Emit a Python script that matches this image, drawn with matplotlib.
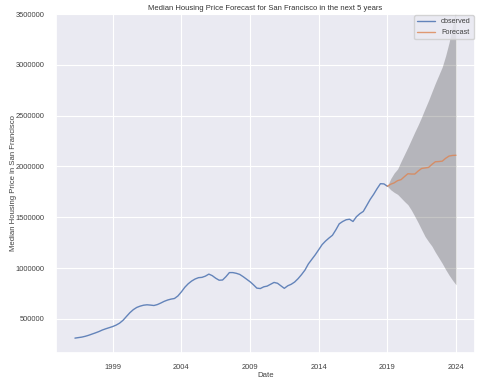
import matplotlib
matplotlib.use('Agg')
import matplotlib.pyplot as plt
import matplotlib.dates as mdates
import matplotlib.ticker as mticker
import pandas as pd
import seaborn as sns

# quarterly readings of the observed median price
obs_start = '1996-04-01'
obs_values = [
    310000, 315000, 320000, 328000, 338000, 350000, 362000, 375000,
    390000, 402000, 413000, 424000, 438000, 457000, 485000, 523000,
    560000, 590000, 612000, 625000, 634000, 638000, 635000, 631000,
    640000, 655000, 672000, 685000, 694000, 700000, 725000, 765000,
    810000, 845000, 872000, 892000, 905000, 908000, 920000, 940000,
    925000, 900000, 880000, 882000, 915000, 955000, 955000, 948000,
    937000, 915000, 890000, 865000, 835000, 802000, 798000, 815000,
    822000, 840000, 858000, 850000, 825000, 800000, 825000, 840000,
    862000, 895000, 935000, 980000, 1040000, 1085000, 1130000, 1180000,
    1230000, 1265000, 1295000, 1322000, 1375000, 1435000, 1458000, 1475000,
    1480000, 1458000, 1505000, 1535000, 1557000, 1615000, 1675000, 1725000,
    1780000, 1830000, 1828000, 1805000,
]

fc_start = '2019-01-01'
fc_mean = [
    1805000, 1825000, 1838000, 1860000, 1870000, 1900000, 1928000, 1925000,
    1925000, 1955000, 1980000, 1985000, 1990000, 2020000, 2046000, 2048000,
    2052000, 2080000, 2102000, 2108000, 2110000,
]
fc_upper = [
    1805000, 1880000, 1935000, 1975000, 2050000, 2120000, 2190000, 2265000,
    2340000, 2410000, 2487000, 2570000, 2650000, 2735000, 2820000, 2900000,
    2980000, 3090000, 3220000, 3380000, 3560000,
]
fc_lower = [
    1805000, 1770000, 1745000, 1725000, 1690000, 1655000, 1623000, 1570000,
    1508000, 1445000, 1377000, 1310000, 1260000, 1215000, 1155000, 1100000,
    1045000, 985000, 930000, 880000, 835000,
]

tick_years = [1999, 2004, 2009, 2014, 2019, 2024]
y_ticks = [500000, 1000000, 1500000, 2000000, 2500000, 3000000, 3500000]

obs_dates = pd.date_range(obs_start, periods=len(obs_values), freq='3MS')
fc_dates = pd.date_range(fc_start, periods=len(fc_mean), freq='3MS')

sns.set_theme(style='darkgrid', rc={'grid.linewidth': 0.8})
plt.rcParams['font.family'] = ['Liberation Sans', 'DejaVu Sans']

fig, ax = plt.subplots(figsize=(4.99, 3.79), dpi=100)
fig.subplots_adjust(left=0.112, right=0.952, top=0.963, bottom=0.069)

blue, orange = sns.color_palette('deep')[:2]
ax.plot(obs_dates, obs_values, color=blue, lw=1.0, alpha=0.85, label='observed')
ax.plot(fc_dates, fc_mean, color=orange, lw=1.0, alpha=0.8, label='Forecast')
ax.fill_between(fc_dates, fc_lower, fc_upper, color='k', alpha=0.25, lw=0)

ax.set_ylim(165000, 3500000)
ax.xaxis.set_major_locator(mticker.FixedLocator(
    [mdates.date2num(pd.Timestamp(year=y, month=1, day=1)) for y in tick_years]))
ax.xaxis.set_major_formatter(mdates.DateFormatter('%Y'))
ax.yaxis.set_major_locator(mticker.FixedLocator(y_ticks))
ax.yaxis.set_major_formatter(mticker.FormatStrFormatter('%d'))
ax.tick_params(labelsize=5.4, pad=2, labelcolor='0.25')

ax.set_xlabel('Date', fontsize=5.6, labelpad=1, color='0.25')
ax.set_ylabel('Median Housing Price in San Francisco', fontsize=5.6, color='0.25')
ax.yaxis.set_label_coords(-0.092, 0.5)
ax.set_title('Median Housing Price Forecast for San Francisco in the next 5 years',
             fontsize=5.5, pad=3, color='0.2')
leg = ax.legend(loc='upper right', fontsize=5.2, borderaxespad=0.2, handlelength=2.5)
for t in leg.get_texts():
    t.set_color('0.25')

fig.savefig('out.png', dpi=100)
